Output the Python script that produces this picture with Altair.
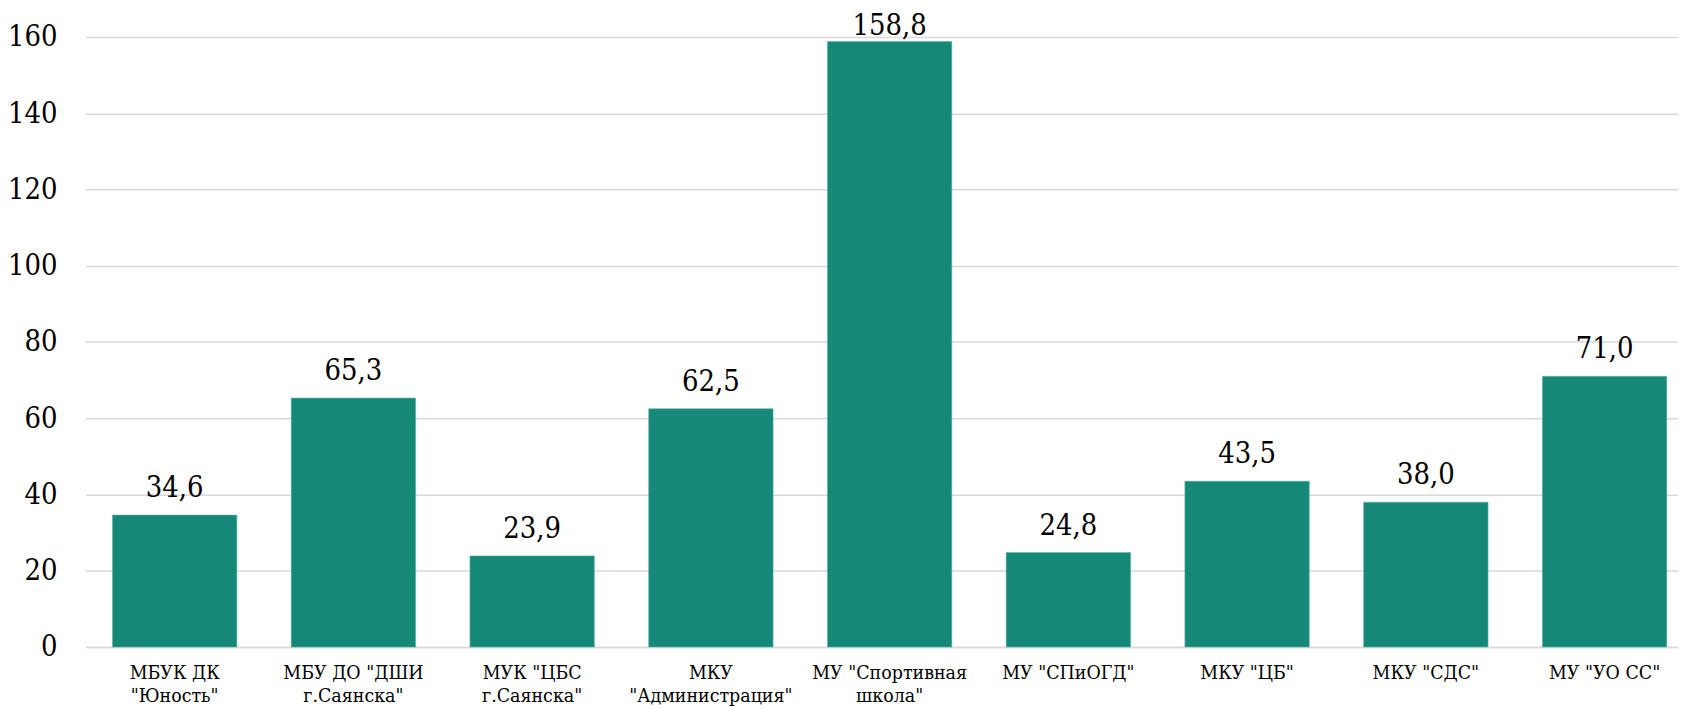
import altair as alt
import pandas as pd

categories = [
    'МБУК ДК|"Юность"',
    'МБУ ДО "ДШИ|г.Саянска"',
    'МУК "ЦБС|г.Саянска"',
    'МКУ|"Администрация"',
    'МУ "Спортивная|школа"',
    'МУ "СПиОГД"',
    'МКУ "ЦБ"',
    'МКУ "СДС"',
    'МУ "УО СС"',
]
values = [34.6, 65.3, 23.9, 62.5, 158.8, 24.8, 43.5, 38.0, 71.0]
y_ticks = [0, 20, 40, 60, 80, 100, 120, 140, 160]

df = pd.DataFrame({"cat": categories, "v": values})

FONT = "DejaVu Serif Condensed, DejaVu Serif"
BAR = "#158878"
GRID = "#d9d9d9"

x_enc = alt.X(
    "cat:N",
    sort=None,
    title=None,
    scale=alt.Scale(paddingInner=0.304, paddingOuter=0.1065, align=0.705),
    axis=alt.Axis(
        labelAngle=0,
        labelExpr="split(datum.label, '|')",
        labelFont=FONT,
        labelFontSize=19.5,
        labelLineHeight=23,
        labelColor="#000000",
        labelPadding=17,
        ticks=False,
        tickSize=0,
        domain=True,
        domainColor=GRID,
        domainWidth=1.5,
        grid=False,
        labelLimit=400,
    ),
)

y_scale = alt.Scale(domain=[0, 160], nice=False, zero=True)

bars = alt.Chart(df).mark_bar(color=BAR, stroke="#5fb3a6", strokeWidth=0.6).encode(
    x=x_enc,
    y=alt.Y(
        "v:Q",
        scale=y_scale,
        title=None,
        axis=alt.Axis(
            values=y_ticks,
            labelFont=FONT,
            labelFontSize=29,
            labelColor="#000000",
            labelPadding=28.7,
            ticks=False,
            tickSize=0,
            domain=False,
            grid=True,
            gridColor=GRID,
            gridWidth=1.5,
        ),
    ),
)

labels = (
    alt.Chart(df)
    .transform_calculate(
        ly="min(datum.v + 4.7, 160.6)",
        txt="replace(format(datum.v, '.1f'), '.', ',')",
    )
    .mark_text(font=FONT, fontSize=29, color="#000000", baseline="alphabetic", align="center")
    .encode(
        x=alt.X("cat:N", sort=None),
        y=alt.Y("ly:Q", scale=y_scale),
        text="txt:N",
    )
)

chart = (
    alt.layer(bars, labels)
    .properties(
        width=1600,
        height=612.9,
        padding={"left": 78, "top": 27.5, "right": 0, "bottom": 62},
        autosize=alt.AutoSizeParams(type="none"),
        background="#ffffff",
    )
    .configure_view(stroke=None)
)

chart.save("out.html", embed_options={"renderer": "svg", "actions": False})
